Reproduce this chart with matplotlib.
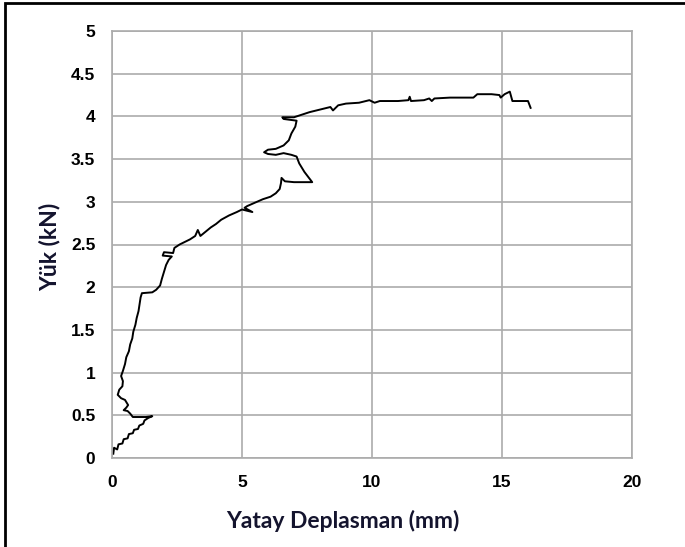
import matplotlib.pyplot as plt
from matplotlib.patches import Rectangle

# yatay deplasman (mm) ve yük (kN) okumaları
deplasman = [0.05, 0.08, 0.20, 0.25, 0.40, 0.45, 0.60, 0.65, 0.80, 0.85, 1.00, 1.05,
             1.20, 1.25, 1.40, 1.55, 1.30, 1.05, 0.80, 0.70, 0.60, 0.45, 0.55, 0.62,
             0.50, 0.35, 0.22, 0.28, 0.40, 0.42, 0.35, 0.42, 0.50, 0.55, 0.65, 0.70,
             0.78, 0.82, 0.90, 0.95, 1.02, 1.06, 1.10, 1.15, 1.55, 1.70, 1.85, 1.92,
             2.00, 2.08, 2.18, 2.30, 1.95, 2.00, 2.35, 2.40, 2.60, 2.80, 3.00, 3.20,
             3.30, 3.40, 3.60, 3.80, 4.00, 4.20, 4.50, 4.80, 5.00, 5.40, 5.10, 5.20,
             5.50, 5.80, 6.10, 6.30, 6.45, 6.50, 6.52, 6.65, 7.00, 7.50, 7.70, 7.40,
             7.20, 7.10, 6.90, 6.60, 6.30, 6.00, 5.85, 6.00, 6.30, 6.60, 6.80, 6.90,
             7.05, 7.10, 6.60, 6.55, 7.00, 7.30, 7.60, 8.00, 8.40, 8.50, 8.70, 9.00,
             9.50, 9.90, 10.10, 10.30, 11.00, 11.40, 11.45, 11.50, 12.00, 12.20, 12.30,
             12.40, 13.00, 13.90, 14.05, 14.60, 14.90, 14.95, 15.10, 15.30, 15.40,
             16.00, 16.10]
yuk = [0.05, 0.12, 0.10, 0.16, 0.17, 0.22, 0.23, 0.28, 0.29, 0.33, 0.34, 0.38,
       0.40, 0.44, 0.47, 0.49, 0.48, 0.48, 0.48, 0.52, 0.55, 0.56, 0.59, 0.62,
       0.68, 0.70, 0.74, 0.80, 0.84, 0.90, 0.96, 1.02, 1.10, 1.18, 1.25, 1.33,
       1.40, 1.48, 1.56, 1.64, 1.72, 1.80, 1.88, 1.93, 1.94, 1.97, 2.02, 2.10,
       2.18, 2.26, 2.32, 2.36, 2.37, 2.41, 2.40, 2.46, 2.50, 2.53, 2.56, 2.60,
       2.67, 2.60, 2.65, 2.70, 2.74, 2.79, 2.84, 2.88, 2.91, 2.88, 2.93, 2.95,
       2.99, 3.03, 3.06, 3.10, 3.15, 3.22, 3.28, 3.24, 3.23, 3.23, 3.23, 3.35,
       3.45, 3.53, 3.55, 3.57, 3.55, 3.56, 3.58, 3.61, 3.62, 3.66, 3.72, 3.80,
       3.88, 3.95, 3.97, 3.99, 3.99, 4.02, 4.05, 4.08, 4.11, 4.07, 4.13, 4.15,
       4.16, 4.19, 4.16, 4.18, 4.18, 4.19, 4.23, 4.18, 4.19, 4.21, 4.18,
       4.21, 4.22, 4.22, 4.26, 4.26, 4.25, 4.22, 4.26, 4.29, 4.18,
       4.18, 4.10]

x_ticks = [0, 5, 10, 15, 20]
y_ticks = [0, 0.5, 1, 1.5, 2, 2.5, 3, 3.5, 4, 4.5, 5]
y_tick_labels = ['0', '0.5', '1', '1.5', '2', '2.5', '3', '3.5', '4', '4.5', '5']

fig = plt.figure(figsize=(6.85, 5.47), dpi=100)
ax = fig.add_axes([112 / 685, 1 - 458 / 547, 520 / 685, 427 / 547])

ax.plot(deplasman, yuk, color='black', linewidth=1.4)

ax.set_xlim(0, 20)
ax.set_ylim(0, 5)
ax.set_xticks(x_ticks)
ax.set_yticks(y_ticks)
ax.set_yticklabels(y_tick_labels)

izgara = '#ababab'
ax.grid(True, color=izgara, linewidth=1.2)
ax.set_axisbelow(True)
for spine in ax.spines.values():
    spine.set_color(izgara)
    spine.set_linewidth(1.2)
ax.tick_params(length=0, pad=12)
for lbl in ax.get_xticklabels() + ax.get_yticklabels():
    lbl.set_fontfamily(['Liberation Sans Narrow', 'Liberation Sans', 'DejaVu Sans'])
    lbl.set_fontweight('bold')
    lbl.set_fontsize(12.5)

yazi_rengi = '#14142e'
fig.text(343 / 685, 1 - 521 / 547, 'Yatay Deplasman (mm)', ha='center', va='center',
         fontsize=16.5, fontweight='bold', color=yazi_rengi, family=['Lato', 'DejaVu Sans'])
fig.text(50 / 685, 1 - 247 / 547, 'Yük (kN)', ha='center', va='center', rotation=90,
         fontsize=16.5, fontweight='bold', color=yazi_rengi, family=['Lato', 'DejaVu Sans'])

# grafik alanının çerçevesi
fig.patches.append(Rectangle((5 / 685, -0.05), 1.1, 1.05 - 3 / 547, transform=fig.transFigure,
                             fill=False, edgecolor='black', linewidth=2))

fig.savefig('out.png', dpi=100)
